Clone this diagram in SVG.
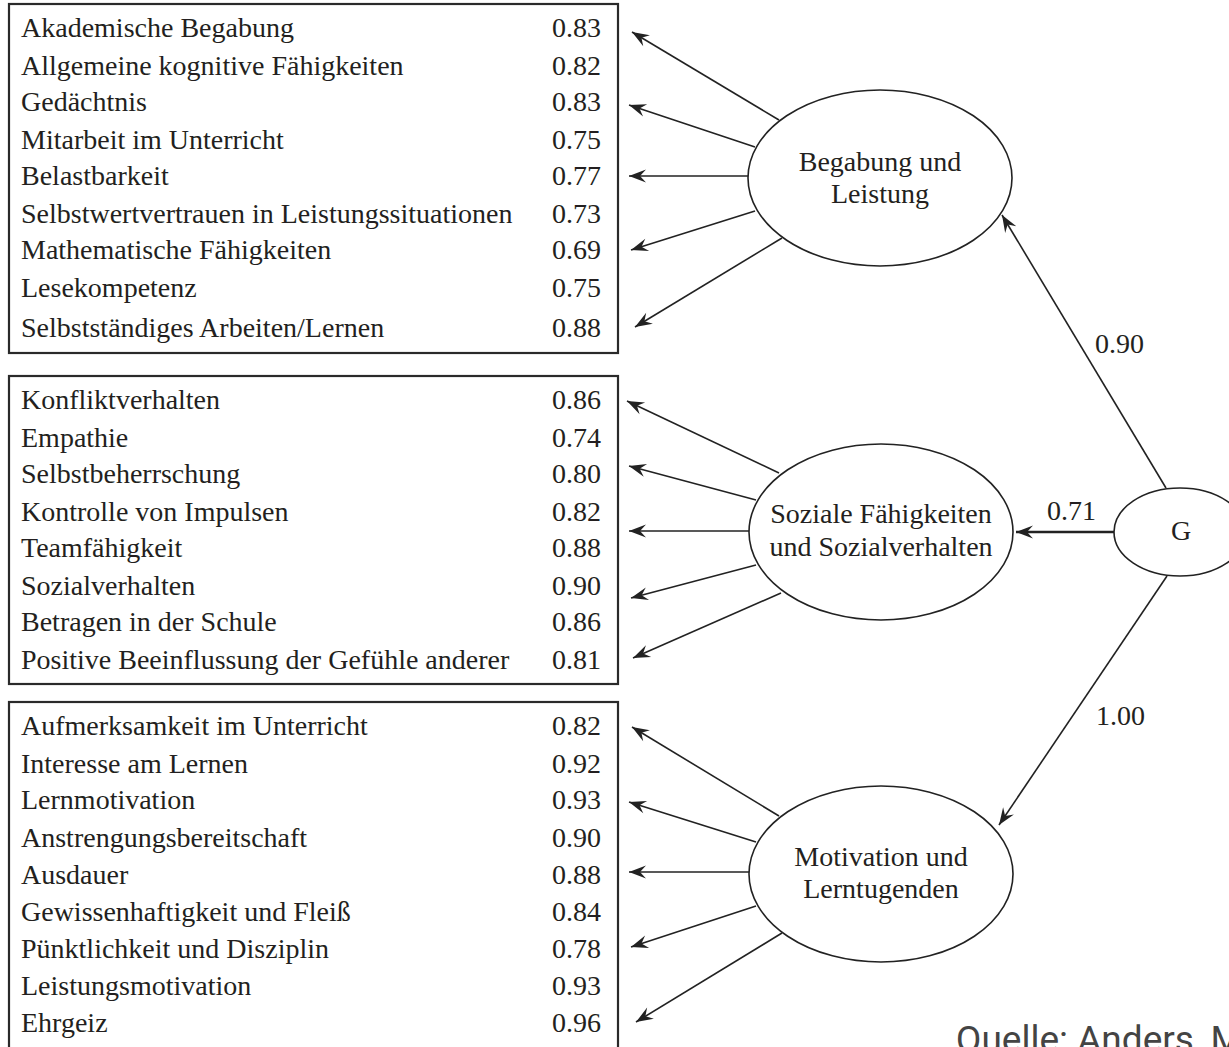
<svg xmlns="http://www.w3.org/2000/svg" width="1229" height="1047" viewBox="0 0 1229 1047">
<style>
.t{font-family:"Liberation Serif","Times New Roman",serif;font-size:28px;fill:#231f20}
.n{text-anchor:end}
.c{text-anchor:middle}
.box{fill:none;stroke:#2a2a2a;stroke-width:2.2}
.ell{fill:#fff;stroke:#222;stroke-width:1.6}
.con{stroke:#222;stroke-width:1.6;fill:none;marker-end:url(#ah)}
.src{font-family:Roboto,"Liberation Sans",sans-serif;font-size:37px;fill:#444}
</style>
<defs>
<marker id="ah" markerUnits="userSpaceOnUse" viewBox="-18 -7 19 14" markerWidth="19" markerHeight="14" refX="0" refY="0" orient="auto">
<path d="M0,0 L-17,-6.5 L-11,0 L-17,6.5 Z" fill="#222"/>
</marker>
</defs>
<rect width="1229" height="1047" fill="#fff"/>

<g id="box-begabung">
<rect class="box" x="9" y="4" width="609" height="349"/>
<text class="t" x="21" y="37">Akademische Begabung</text><text class="t n" x="601" y="37">0.83</text>
<text class="t" x="21" y="75">Allgemeine kognitive Fähigkeiten</text><text class="t n" x="601" y="75">0.82</text>
<text class="t" x="21" y="111">Gedächtnis</text><text class="t n" x="601" y="111">0.83</text>
<text class="t" x="21" y="149">Mitarbeit im Unterricht</text><text class="t n" x="601" y="149">0.75</text>
<text class="t" x="21" y="185">Belastbarkeit</text><text class="t n" x="601" y="185">0.77</text>
<text class="t" x="21" y="223">Selbstwertvertrauen in Leistungssituationen</text><text class="t n" x="601" y="223">0.73</text>
<text class="t" x="21" y="259">Mathematische Fähigkeiten</text><text class="t n" x="601" y="259">0.69</text>
<text class="t" x="21" y="297">Lesekompetenz</text><text class="t n" x="601" y="297">0.75</text>
<text class="t" x="21" y="337">Selbstständiges Arbeiten/Lernen</text><text class="t n" x="601" y="337">0.88</text>
</g>

<g id="box-sozial">
<rect class="box" x="9" y="376" width="609" height="308"/>
<text class="t" x="21" y="409">Konfliktverhalten</text><text class="t n" x="601" y="409">0.86</text>
<text class="t" x="21" y="447">Empathie</text><text class="t n" x="601" y="447">0.74</text>
<text class="t" x="21" y="483">Selbstbeherrschung</text><text class="t n" x="601" y="483">0.80</text>
<text class="t" x="21" y="521">Kontrolle von Impulsen</text><text class="t n" x="601" y="521">0.82</text>
<text class="t" x="21" y="557">Teamfähigkeit</text><text class="t n" x="601" y="557">0.88</text>
<text class="t" x="21" y="595">Sozialverhalten</text><text class="t n" x="601" y="595">0.90</text>
<text class="t" x="21" y="631">Betragen in der Schule</text><text class="t n" x="601" y="631">0.86</text>
<text class="t" x="21" y="669">Positive Beeinflussung der Gefühle anderer</text><text class="t n" x="601" y="669">0.81</text>
</g>

<g id="box-motivation">
<rect class="box" x="9" y="702" width="609" height="360"/>
<text class="t" x="21" y="735">Aufmerksamkeit im Unterricht</text><text class="t n" x="601" y="735">0.82</text>
<text class="t" x="21" y="773">Interesse am Lernen</text><text class="t n" x="601" y="773">0.92</text>
<text class="t" x="21" y="809">Lernmotivation</text><text class="t n" x="601" y="809">0.93</text>
<text class="t" x="21" y="847">Anstrengungsbereitschaft</text><text class="t n" x="601" y="847">0.90</text>
<text class="t" x="21" y="884">Ausdauer</text><text class="t n" x="601" y="884">0.88</text>
<text class="t" x="21" y="921">Gewissenhaftigkeit und Fleiß</text><text class="t n" x="601" y="921">0.84</text>
<text class="t" x="21" y="958">Pünktlichkeit und Disziplin</text><text class="t n" x="601" y="958">0.78</text>
<text class="t" x="21" y="995">Leistungsmotivation</text><text class="t n" x="601" y="995">0.93</text>
<text class="t" x="21" y="1032">Ehrgeiz</text><text class="t n" x="601" y="1032">0.96</text>
</g>

<g id="connectors">
<line class="con" x1="779" y1="120" x2="632" y2="32"/>
<line class="con" x1="755" y1="147" x2="629" y2="105"/>
<line class="con" x1="748" y1="176" x2="629" y2="176"/>
<line class="con" x1="755" y1="211" x2="631" y2="250"/>
<line class="con" x1="782" y1="238" x2="635" y2="327"/>

<line class="con" x1="779" y1="473" x2="627" y2="401"/>
<line class="con" x1="756" y1="500" x2="629" y2="466"/>
<line class="con" x1="749" y1="531" x2="629" y2="531"/>
<line class="con" x1="756" y1="565" x2="631" y2="598"/>
<line class="con" x1="781" y1="593" x2="633" y2="658"/>

<line class="con" x1="779" y1="816" x2="632" y2="727"/>
<line class="con" x1="756" y1="842" x2="629" y2="802"/>
<line class="con" x1="749" y1="872" x2="629" y2="872"/>
<line class="con" x1="756" y1="906" x2="631" y2="947"/>
<line class="con" x1="782" y1="933" x2="636" y2="1022"/>

<line class="con" x1="1166" y1="488" x2="1002" y2="215"/>
<line class="con" x1="1114" y1="532" x2="1016" y2="532" style="stroke-width:2.4"/>
<line class="con" x1="1167" y1="576" x2="999" y2="825"/>
<text class="t" x="1095" y="353">0.90</text>
<text class="t" x="1047" y="520">0.71</text>
<text class="t" x="1096" y="725">1.00</text>
</g>

<g id="node-begabung">
<ellipse class="ell" cx="880" cy="178" rx="132" ry="88"/>
<text class="t c" x="880" y="171">Begabung und</text>
<text class="t c" x="880" y="203">Leistung</text>
</g>

<g id="node-sozial">
<ellipse class="ell" cx="881" cy="532" rx="132" ry="88"/>
<text class="t c" x="881" y="523">Soziale Fähigkeiten</text>
<text class="t c" x="881" y="556">und Sozialverhalten</text>
</g>

<g id="node-motivation">
<ellipse class="ell" cx="881" cy="874" rx="132" ry="88"/>
<text class="t c" x="881" y="866">Motivation und</text>
<text class="t c" x="881" y="898">Lerntugenden</text>
</g>

<g id="node-g">
<ellipse class="ell" cx="1180" cy="532" rx="66" ry="44"/>
<text class="t c" x="1181" y="540">G</text>
</g>

<text class="src" x="956" y="1052">Quelle: Anders, M</text>
</svg>
